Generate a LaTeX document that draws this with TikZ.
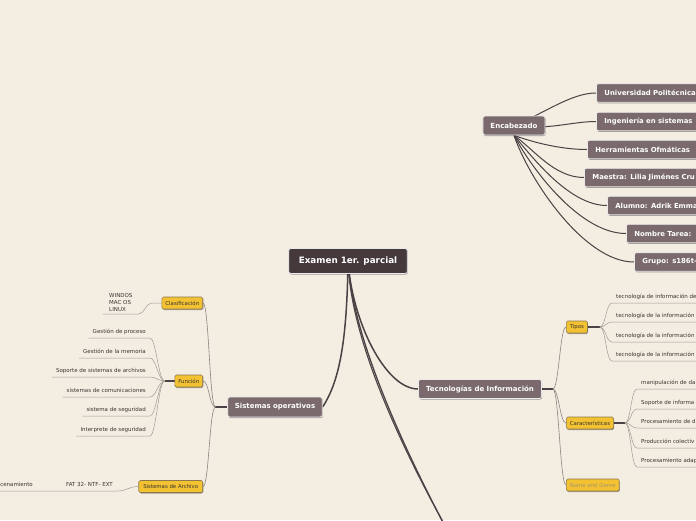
\documentclass[tikz,border=0pt]{standalone}
\usepackage{fontspec}
\setmainfont{DejaVu Sans}
\usetikzlibrary{shadows,calc}
\pgfdeclarelayer{bgl}
\pgfsetlayers{bgl,main}
\definecolor{bgc}{HTML}{F3EDE2}
\definecolor{rootc}{HTML}{45393C}
\definecolor{mainc}{HTML}{7A6A6D}
\definecolor{yel}{HTML}{F2C232}
\definecolor{yelb}{HTML}{8C7A4A}
\definecolor{linec}{HTML}{4A4245}
\definecolor{midc}{HTML}{8C8480}
\definecolor{thinc}{HTML}{A39B94}
\definecolor{leaftxt}{HTML}{3A3430}
\definecolor{ghost}{HTML}{A8946A}
\tikzset{
 shad/.style={drop shadow={shadow xshift=0.6pt, shadow yshift=-1pt, opacity=0.35, fill=black}},
 box/.style={rounded corners=2pt, draw=white!85!mainc, line width=0.8pt, text=white, shad},
 rootbox/.style={box, fill=rootc, font=\fontsize{8.8}{10}\bfseries\selectfont, minimum height=25pt, inner xsep=10pt, inner ysep=0pt},
 mainbox/.style={box, fill=mainc, font=\fontsize{7}{8}\bfseries\selectfont, minimum height=19pt, inner xsep=7.5pt, inner ysep=0pt},
 headbox/.style={box, fill=mainc, font=\fontsize{6.9}{8}\bfseries\selectfont, minimum height=18.5pt, inner xsep=8pt, inner ysep=0pt, anchor=west, text width=160pt, align=left},
 ybox/.style={rounded corners=1.5pt, draw=yelb, line width=0.6pt, fill=yel, text=leaftxt, font=\fontsize{5.4}{6}\selectfont, minimum height=12pt, inner xsep=3.5pt, inner ysep=0pt, shad},
 leaf/.style={text=leaftxt, font=\fontsize{5.5}{7}\selectfont, inner xsep=4pt, inner ysep=2.5pt, text height=4pt, text depth=1.5pt},
 leafm/.style={text=leaftxt, font=\fontsize{5.5}{7}\selectfont, inner xsep=6pt, inner ysep=2.2pt, align=left},
 conn/.style={draw=linec, line width=1.5pt},
 hconn/.style={draw=linec, line width=1pt},
 stub/.style={draw=linec, line width=1.3pt},
 mid/.style={draw=midc, line width=0.6pt},
 thin1/.style={draw=thinc, line width=0.5pt}
}
\begin{document}
\begin{tikzpicture}[x=1pt,y=-1pt]
\useasboundingbox (0,0) rectangle (696,520);
\begin{pgfonlayer}{bgl}
\fill[bgc] (0,0) rectangle (696,520);
\end{pgfonlayer}
\clip (0,0) rectangle (696,520);
\coordinate (redge) at (700,0);
\coordinate (off1) at (447,530);
\coordinate (off2) at (448,531);
% main nodes
\node[rootbox] (rt) at (348,261) {Examen 1er. parcial};
\node[mainbox] (enc) at (514,125.5) {Encabezado};
\node[mainbox, inner xsep=7pt, minimum height=20pt] (so) at (275,407) {Sistemas operativos};
\node[mainbox, inner xsep=7.5pt] (tec) at (480,389) {Tecnologías de Información};
% header items
\node[headbox] (uni) at (596,93) {Universidad Politécnica};
\node[headbox] (ing) at (596,121.5) {Ingeniería en sistemas};
\node[headbox] (her) at (587,149.5) {Herramientas Ofmáticas};
\node[headbox] (mae) at (584,177.5) {Maestra: Lilia Jiménes Cru};
\node[headbox] (alu) at (607,205.5) {Alumno: Adrik Emma};
\node[headbox] (nom) at (626,233.5) {Nombre Tarea:};
\node[headbox] (gru) at (634,262) {Grupo: s186t-};
% yellow nodes
\node[ybox, anchor=east] (cla) at (203,303) {Clasificación};
\node[ybox, anchor=east] (fun) at (203,381) {Función};
\node[ybox, anchor=east, inner xsep=4.5pt] (sda) at (203,486.5) {Sistemas de Archivo};
\node[ybox, anchor=west] (tip) at (566,327) {Tipos};
\node[ybox, anchor=west] (car) at (566,423) {Características};
\node[ybox, anchor=west, text=ghost] (nag) at (566,485) {Name and Genre};
% leaves left
\node[leafm, anchor=south west] (win) at (103,314) {WINDOS\\MAC OS\\LINUX};
\node[leaf, anchor=south east] (f1) at (150,338) {Gestión de proceso};
\node[leaf, anchor=south east] (f2) at (150,358) {Gestión de la memoria};
\node[leaf, anchor=south east] (f3) at (150,377) {Soporte de sistemas de archivos};
\node[leaf, anchor=south east] (f4) at (150,397) {sistemas de comunicaciones};
\node[leaf, anchor=south east] (f5) at (150,416) {sistema de seguridad};
\node[leaf, anchor=south east] (f6) at (150,436) {Interprete de seguridad};
\node[leaf, anchor=south east] (fat) at (117,491) {FAT 32- NTF- EXT};
\node[leaf, anchor=south east] (alm) at (37,491) {Almacenamiento};
% leaves right
\node[leaf, anchor=south west] (t1) at (612,303) {tecnología de información de};
\node[leaf, anchor=south west] (t2) at (612,322) {tecnología de la información};
\node[leaf, anchor=south west] (t3) at (612,342) {tecnología de la información};
\node[leaf, anchor=south west] (t4) at (612,361) {tecnología de la información};
\node[leaf, anchor=south west] (c1) at (637,389) {manipulación de da};
\node[leaf, anchor=south west] (c2) at (637,409) {Soporte de informa};
\node[leaf, anchor=south west] (c3) at (637,428) {Procesamiento de d};
\node[leaf, anchor=south west] (c4) at (637,448) {Producción colectiv};
\node[leaf, anchor=south west] (c5) at (637,467) {Procesamiento adap};
% connectors
\begin{pgfonlayer}{bgl}
\draw[conn] (rt.center) .. controls +(-1,75) and +(18,-27) .. (so.east);
\draw[conn] (rt.center) .. controls +(4,60) and +(-33,0) .. (tec.west);
\draw[conn, line width=1.3pt] (rt.center) .. controls +(4,80) and +(-37,-70) .. (off1);
\draw[conn, line width=1.1pt] (rt.center) .. controls +(2.5,84) and +(-39,-70) .. (off2);
\draw[hconn] (enc.center) .. controls +(30,-12) and +(-25,0) .. (uni.west);
\draw[hconn] (enc.center) .. controls +(35,5) and +(-25,0) .. (ing.west);
\draw[hconn] (enc.south) .. controls +(25,9) and +(-22,0) .. (her.west);
\draw[hconn] (enc.south) .. controls +(20,14) and +(-30,0) .. (mae.west);
\draw[hconn] (enc.south) .. controls +(20,24) and +(-37,0) .. (alu.west);
\draw[hconn] (enc.south) .. controls +(18,34) and +(-46,0) .. (nom.west);
\draw[hconn] (enc.south) .. controls +(15,44) and +(-50,0) .. (gru.west);
% sistemas operativos
\draw[stub] (so.west) -- ++(-12,0) coordinate (sob);
\foreach \n in {cla,fun,sda}
  \draw[mid] (sob) .. controls +(-6,0) and +(6,0) .. (\n.east);
\draw[stub] (fun.west) -- ++(-10,0) coordinate (fb);
\foreach \n in {f1,f2,f3,f4,f5,f6}
  \draw[thin1] (fb) .. controls +(-6,0) and +(6,0) .. (\n.south east) -- (\n.south west);
\draw[thin1] (cla.west) -- ++(-10,0) .. controls +(-6,0) and +(6,0) .. (win.south east) -- (win.south west);
\draw[thin1] (sda.west) .. controls +(-10,0) and +(10,0) .. (fat.south east) -- (fat.south west) -- (alm.south east) -- (alm.south west);
% tecnologias
\draw[stub] (tec.east) -- ++(11,0) coordinate (tcb);
\foreach \n in {tip,car,nag}
  \draw[mid] (tcb) .. controls +(6,0) and +(-6,0) .. (\n.west);
\draw[stub] (tip.east) -- ++(12,0) coordinate (tb);
\foreach \n in {t1,t2,t3,t4}
  \draw[thin1] (tb) .. controls +(6,0) and +(-6,0) .. (\n.south west) -- (\n.south west -| redge);
\draw[stub] (car.east) -- ++(11,0) coordinate (cb);
\foreach \n in {c1,c2,c3,c4,c5}
  \draw[thin1] (cb) .. controls +(6,0) and +(-6,0) .. (\n.south west) -- (\n.south west -| redge);
\end{pgfonlayer}
\end{tikzpicture}
\end{document}
